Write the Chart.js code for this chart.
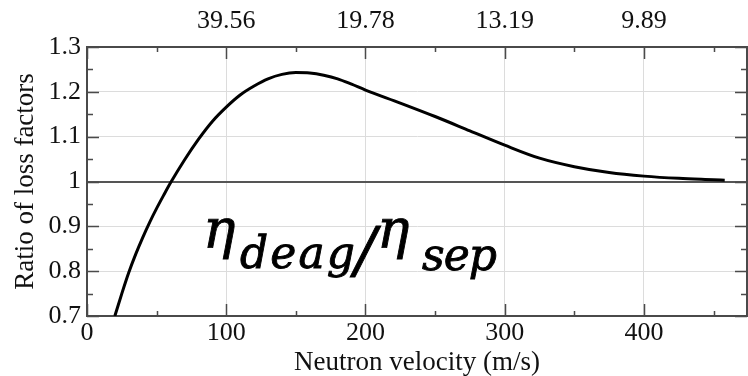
<!DOCTYPE html>
<html>
<head>
<meta charset="utf-8">
<script src="https://cdn.jsdelivr.net/npm/chart.js"></script>
<style>
  html, body { margin: 0; padding: 0; background: #fff; }
  #wrap { width: 748px; height: 376px; }
</style>
</head>
<body>
<div id="wrap"><canvas id="myChart"></canvas></div>
<script>
// neutron velocity (m/s) and ratio of loss factors
const velocity = [20, 25, 30, 35, 40, 45, 50, 55, 60, 70, 80, 90, 100, 110, 120, 130, 140, 150, 160, 170, 180, 190, 200, 225, 250, 275, 300, 325, 350, 375, 400, 425, 450, 458];
const ratio = [0.700, 0.750, 0.797, 0.838, 0.875, 0.909, 0.940, 0.969, 0.997, 1.048, 1.094, 1.134, 1.166, 1.193, 1.213, 1.229, 1.239, 1.243, 1.242, 1.237, 1.229, 1.217, 1.204, 1.175, 1.145, 1.113, 1.081, 1.052, 1.033, 1.020, 1.012, 1.007, 1.004, 1.003];

// top axis: wavelength labels at the velocity ticks
const topTickValues = [100, 200, 300, 400];
const topTickLabels = ['39.56', '19.78', '13.19', '9.89'];

const xMin = 0, xMax = 474;
const yMin = 0.7, yMax = 1.3;

const axisColor = '#4a4a4a';
const tickFont = { family: 'Liberation Serif', size: 26 };

// ticks pointing into the plot, on all four sides
const inwardTicks = {
  id: 'inwardTicks',
  afterDraw(chart) {
    const { ctx, chartArea: a, scales: { x, y } } = chart;
    ctx.save();
    ctx.strokeStyle = axisColor;
    ctx.lineWidth = 1.5;
    ctx.beginPath();
    for (let v = 0; v <= xMax; v += 50) {
      const px = Math.round(x.getPixelForValue(v)) + 0.5;
      const len = v % 100 === 0 ? 12 : 5;
      ctx.moveTo(px, a.bottom); ctx.lineTo(px, a.bottom - len);
      ctx.moveTo(px, a.top); ctx.lineTo(px, a.top + len);
    }
    for (let k = 14; k <= 26; k++) {
      const py = Math.round(y.getPixelForValue(k * 0.05)) + 0.5;
      const len = k % 2 === 0 ? 12 : 6;
      ctx.moveTo(a.left, py); ctx.lineTo(a.left + len, py);
      ctx.moveTo(a.right, py); ctx.lineTo(a.right - len, py);
    }
    ctx.stroke();
    ctx.restore();
  }
};

// the eta_deag / eta_sep label inside the plot
function fitText(ctx, text, x, base, width) {
  ctx.letterSpacing = '0px';
  const w = ctx.measureText(text).width;
  const sp = (width - w) / (text.length - 1);
  ctx.letterSpacing = sp + 'px';
  ctx.fillText(text, x, base);
  ctx.strokeText(text, x, base);
  ctx.letterSpacing = '0px';
}

function heavyText(ctx, text, x, base) {
  ctx.fillText(text, x, base);
  ctx.strokeText(text, x, base);
}

const etaLabel = {
  id: 'etaLabel',
  afterDraw(chart) {
    const { ctx, chartArea: a } = chart;
    const ox = a.left, oy = a.top;
    ctx.save();
    ctx.fillStyle = '#000';
    ctx.strokeStyle = '#000';
    ctx.lineWidth = 0.9;
    ctx.textBaseline = 'alphabetic';
    ctx.textAlign = 'left';
    ctx.font = 'italic 54px "DejaVu Serif"';
    heavyText(ctx, 'η', ox + 116, oy + 201);
    ctx.font = 'italic 44px "DejaVu Serif"';
    fitText(ctx, 'deag', ox + 153, oy + 221, 115);
    ctx.font = 'italic 62px "DejaVu Serif"';
    heavyText(ctx, '/', ox + 268, oy + 224);
    ctx.font = 'italic 54px "DejaVu Serif"';
    heavyText(ctx, 'η', ox + 290, oy + 201);
    ctx.font = 'italic 44px "DejaVu Serif"';
    fitText(ctx, 'sep', ox + 335, oy + 223, 75);
    ctx.restore();
  }
};

const ctx = document.getElementById('myChart');
new Chart(ctx, {
  type: 'line',
  data: {
    datasets: [{
      data: velocity.map((v, i) => ({ x: v, y: ratio[i] })),
      borderColor: '#000',
      borderWidth: 3,
      pointRadius: 0,
      fill: false,
      cubicInterpolationMode: 'monotone'
    }]
  },
  options: {
    responsive: true,
    maintainAspectRatio: false,
    animation: false,
    events: [],
    layout: { padding: { left: 0, right: 1, top: 0, bottom: 0 } },
    plugins: {
      legend: { display: false },
      tooltip: { enabled: false }
    },
    scales: {
      x: {
        type: 'linear',
        position: 'bottom',
        min: xMin, max: xMax,
        afterBuildTicks: s => { s.ticks = s.ticks.filter(t => t.value % 100 === 0); },
        afterFit: s => { s.height = 60; },
        ticks: { stepSize: 100, padding: 2, color: '#111', font: tickFont, maxRotation: 0 },
        grid: {
          drawTicks: false,
          color: '#dcdcdc',
          lineWidth: 1
        },
        border: { display: true, color: axisColor, width: 2 },
        title: {
          display: true,
          text: 'Neutron velocity (m/s)',
          color: '#111',
          font: { family: 'Liberation Serif', size: 27, lineHeight: 1 },
          padding: 0
        }
      },
      x2: {
        type: 'linear',
        position: 'top',
        min: xMin, max: xMax,
        afterBuildTicks: s => { s.ticks = topTickValues.map(v => ({ value: v })); },
        afterFit: s => { s.height = 47; },
        ticks: {
          padding: 10,
          color: '#111',
          font: tickFont,
          maxRotation: 0,
          callback: v => topTickLabels[topTickValues.indexOf(v)]
        },
        grid: { display: false, drawTicks: false },
        border: { display: true, color: axisColor, width: 2 }
      },
      y: {
        type: 'linear',
        position: 'left',
        min: yMin, max: yMax,
        afterFit: s => { s.width = 87; },
        ticks: {
          stepSize: 0.1,
          padding: 6,
          color: '#111',
          font: tickFont,
          callback: v => String(Number(v.toFixed(2)))
        },
        grid: {
          drawTicks: false,
          color: c => Math.abs(c.tick.value - 1) < 1e-6 ? '#555' : '#dcdcdc',
          lineWidth: c => Math.abs(c.tick.value - 1) < 1e-6 ? 2 : 1
        },
        border: { display: true, color: axisColor, width: 2 },
        title: {
          display: true,
          text: 'Ratio of loss factors',
          color: '#111',
          font: { family: 'Liberation Serif', size: 27, lineHeight: 1 },
          padding: { top: 12, bottom: 0 }
        }
      },
      y2: {
        type: 'linear',
        position: 'right',
        min: yMin, max: yMax,
        afterFit: s => { s.width = 0; },
        ticks: { display: false },
        grid: { display: false, drawTicks: false },
        border: { display: true, color: axisColor, width: 2 }
      }
    }
  },
  plugins: [inwardTicks, etaLabel]
});
</script>
</body>
</html>
